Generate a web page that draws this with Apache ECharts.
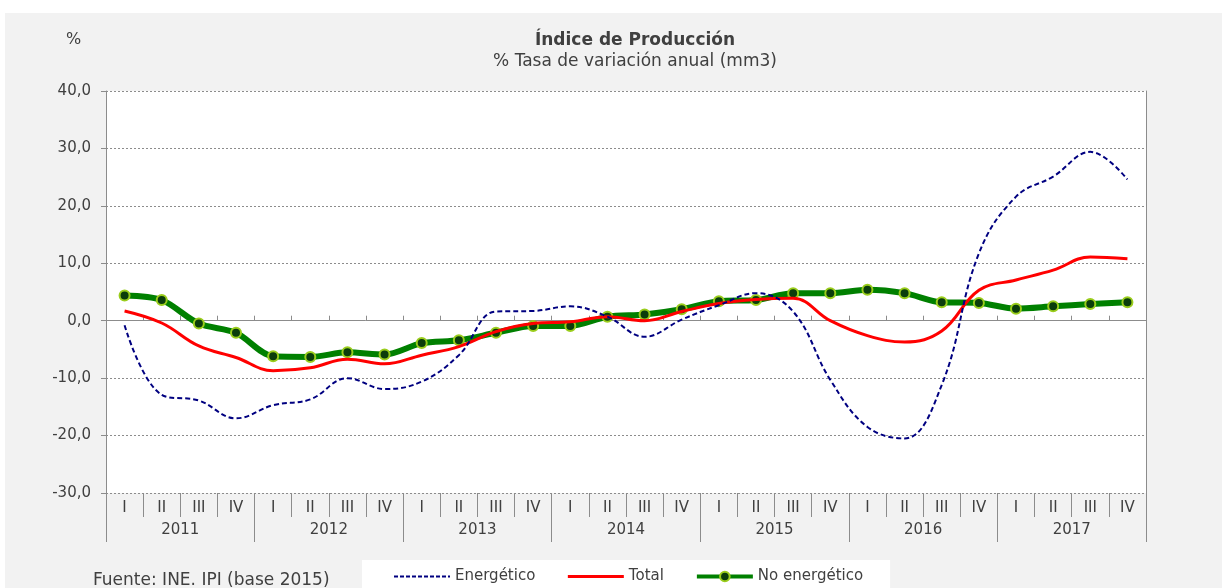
<!DOCTYPE html>
<html>
<head>
<meta charset="utf-8">
<script src="https://cdn.jsdelivr.net/npm/echarts@6/dist/echarts.min.js"></script>
<style>
  body { margin: 0; background: #fff; }
  .panel { position: absolute; left: 5px; top: 13px; width: 1217px; height: 575px; background: #f2f2f2; }
  #chart { position: absolute; left: 0; top: 0; width: 1222px; height: 588px; }
</style>
</head>
<body>
<div class="panel"></div>
<div id="chart"></div>
<script>
const years = ['2011', '2012', '2013', '2014', '2015', '2016', '2017']
const quarterNames = ['I', 'II', 'III', 'IV']
const quarters = []
for (const y of years) {
  for (const q of quarterNames) quarters.push(q)
}

// % tasa de variacion anual (mm3), 2011-I .. 2017-IV
const energetico = [-0.8, -12.9, -13.9, -17.0, -14.7, -13.7, -10.0, -11.9, -10.6, -6.0, 1.6, 1.7, 2.5, 0.7,
  -2.8, 0.2, 2.7, 4.8, 1.6, -10.3, -18.5, -20.5, -11.2, 11.7, 21.6, 25.1, 29.4, 24.6]
const total = [1.7, -0.4, -4.4, -6.4, -8.7, -8.2, -6.7, -7.5, -6.0, -4.5, -1.9, -0.5, -0.2, 0.7,
  0.0, 1.6, 3.0, 3.7, 3.9, 0.0, -2.6, -3.7, -1.8, 5.3, 7.1, 8.8, 11.1, 10.8]
const noEnergetico = [4.4, 3.6, -0.5, -2.1, -6.2, -6.3, -5.5, -5.9, -3.9, -3.4, -2.1, -0.9, -0.9, 0.7,
  1.1, 2.0, 3.4, 3.6, 4.8, 4.8, 5.4, 4.8, 3.2, 3.1, 2.1, 2.5, 2.9, 3.2]

const font = 'DejaVu Sans'
const textColor = '#404040'
const gray = '#8c8c8c'

const chart = echarts.init(document.getElementById('chart'))
chart.setOption({
  animation: false,
  textStyle: { fontFamily: font },
  title: [
    {
      text: 'Índice de Producción',
      subtext: '% Tasa de variación anual (mm3)',
      left: 630,
      top: 27,
      textAlign: 'center',
      itemGap: 4,
      textStyle: { fontFamily: font, fontSize: 17, fontWeight: 'bold', color: textColor },
      subtextStyle: { fontFamily: font, fontSize: 17, color: textColor },
    },
    {
      text: '%',
      left: 61,
      top: 27,
      textStyle: { fontFamily: font, fontSize: 16, fontWeight: 'normal', color: textColor },
    },
    {
      text: 'Fuente: INE. IPI (base 2015)',
      left: 88,
      top: 567,
      textStyle: { fontFamily: font, fontSize: 17, fontWeight: 'normal', color: textColor },
    },
  ],
  legend: {
    data: [
      { name: 'Energético', itemStyle: { opacity: 0 }, lineStyle: { width: 2, type: [4, 2] } },
      { name: 'Total', itemStyle: { opacity: 0 }, lineStyle: { width: 3 } },
      { name: 'No energético', lineStyle: { width: 4 } },
    ],
    selectedMode: false,
    left: 362,
    top: 560,
    backgroundColor: '#fff',
    padding: [9, 27, 5, 31],
    itemGap: 31,
    itemWidth: 56,
    itemHeight: 12,
    textStyle: { fontFamily: font, fontSize: 15, color: textColor },
  },
  grid: {
    left: 106,
    right: 76,
    top: 91,
    bottom: 95,
    show: true,
    backgroundColor: '#fff',
    borderWidth: 0,
  },
  xAxis: [
    {
      // zero line with small upward ticks
      type: 'category',
      data: quarters,
      boundaryGap: true,
      axisLine: { show: true, onZero: true, lineStyle: { color: gray, width: 1 } },
      axisTick: { show: true, inside: true, length: 5, interval: 0, lineStyle: { color: gray } },
      axisLabel: { show: false },
    },
    {
      type: 'category',
      data: quarters,
      position: 'bottom',
      axisLine: { show: false, onZero: false },
      axisTick: { show: true, length: 24, interval: 0, lineStyle: { color: gray } },
      axisLabel: { interval: 0, margin: 8, fontSize: 15, color: textColor },
    },
    {
      type: 'category',
      data: years,
      position: 'bottom',
      axisLine: { show: false, onZero: false },
      axisTick: { show: true, length: 49, interval: 0, lineStyle: { color: gray } },
      axisLabel: { interval: 0, margin: 30, fontSize: 15, color: textColor },
    },
  ],
  yAxis: [
    {
      type: 'value',
      min: -30,
      max: 40,
      interval: 10,
      axisLine: { show: true, lineStyle: { color: gray } },
      axisTick: { show: true, length: 5, lineStyle: { color: gray } },
      axisLabel: {
        margin: 15,
        fontSize: 15,
        color: textColor,
        formatter: (v) => v.toFixed(1).replace('.', ','),
      },
      splitLine: { lineStyle: { color: gray, type: [2, 2], width: 1 } },
    },
    {
      type: 'value',
      position: 'right',
      min: -30,
      max: 40,
      interval: 10,
      axisLine: { show: true, lineStyle: { color: gray } },
      axisTick: { show: false },
      axisLabel: { show: false },
      splitLine: { show: false },
    },
  ],
  series: [
    {
      name: 'No energético',
      type: 'line',
      smooth: 0.3,
      data: noEnergetico,
      symbol: 'circle',
      symbolSize: 10,
      lineStyle: { color: '#008000', width: 6 },
      itemStyle: { color: '#0b3d0b', borderColor: '#9acd1c', borderWidth: 2 },
      z: 2,
    },
    {
      name: 'Total',
      type: 'line',
      smooth: 0.4,
      data: total,
      symbol: 'none',
      lineStyle: { color: '#ff0000', width: 3 },
      itemStyle: { color: '#ff0000' },
      z: 3,
    },
    {
      name: 'Energético',
      type: 'line',
      smooth: 0.4,
      data: energetico,
      symbol: 'none',
      lineStyle: { color: '#000080', width: 2, type: [5, 3] },
      itemStyle: { color: '#000080' },
      z: 4,
    },
  ],
})
</script>
</body>
</html>
